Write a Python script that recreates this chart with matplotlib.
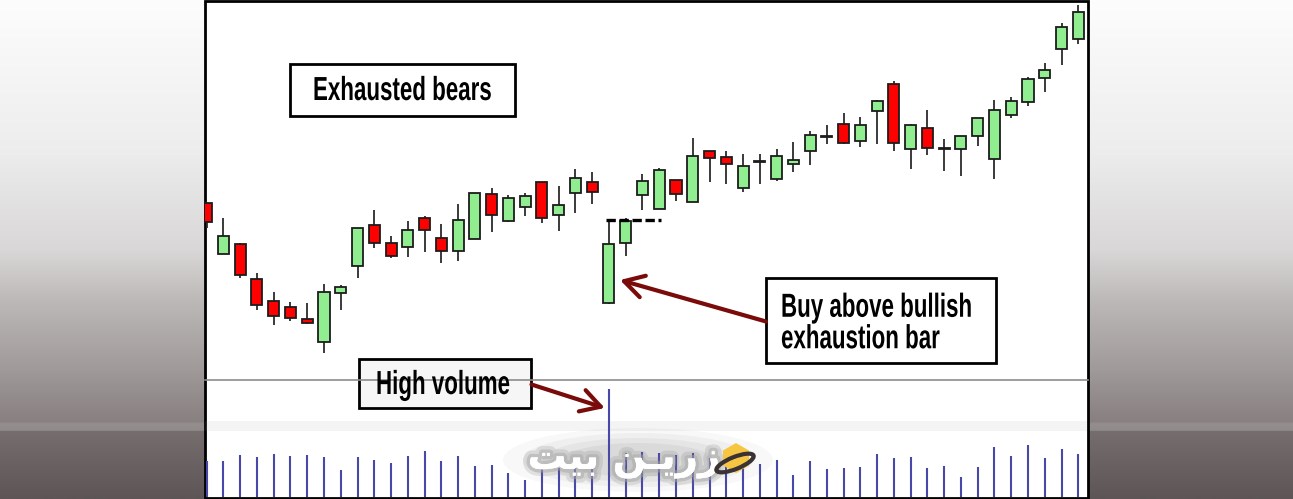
import numpy as np
import matplotlib.pyplot as plt
from matplotlib.patches import Rectangle, RegularPolygon, Ellipse
from matplotlib.transforms import Affine2D
import matplotlib.patheffects as pe

# candle data (arbitrary price units, no axis shown)
opens  = [197, 146, 156, 121, 99, 93, 81, 58, 107, 134, 175, 157, 153, 182, 162, 149,
          161, 206, 179, 193, 218, 185, 207, 218, 97, 157, 205, 191, 220, 198, 249, 243,
          212, 238, 221, 236, 249, 263, 276, 259, 289, 316, 251, 272, 251, 251, 264, 241,
          285, 298, 322, 351, 361]
highs  = [197, 182, 157, 127, 108, 98, 97, 116, 115, 172, 190, 164, 179, 184, 176, 196,
          207, 212, 205, 207, 218, 214, 231, 228, 180, 182, 226, 232, 220, 262, 249, 249,
          246, 246, 251, 258, 269, 275, 287, 283, 300, 319, 276, 290, 261, 264, 282, 300,
          303, 323, 337, 377, 395]
lows   = [172, 146, 122, 90, 75, 79, 76, 47, 90, 122, 152, 142, 143, 148, 137, 139,
          161, 168, 178, 184, 177, 169, 187, 196, 96, 144, 190, 191, 199, 198, 218, 216,
          208, 216, 219, 228, 235, 256, 256, 253, 256, 249, 231, 245, 229, 224, 254, 221,
          282, 294, 308, 335, 356]
closes = [178, 164, 125, 95, 84, 82, 77, 108, 113, 172, 157, 144, 170, 170, 149, 180,
          207, 185, 202, 204, 182, 195, 222, 208, 156, 179, 219, 230, 206, 244, 242, 236,
          234, 238, 244, 240, 265, 263, 257, 275, 299, 257, 275, 252, 252, 264, 282, 290,
          299, 321, 330, 373, 388]
volume = [36, 36, 42, 40, 43, 41, 42, 40, 27, 40, 37, 34, 41, 46, 36, 41,
          31, 32, 24, 17, 29, 29, 30, 35, 108, 44, 45, 44, 42, 44, 39, 31,
          31, 33, 37, 22, 36, 28, 29, 30, 43, 39, 40, 29, 31, 20, 30, 50,
          41, 52, 39, 48, 43]
exhaustion_bar = 24

W, H = 1293, 499
fig = plt.figure(figsize=(W / 100, H / 100), dpi=100)

def fx(px):
    return px / W

def fy(py):
    return 1 - py / H

# squeeze glyphs sideways so the bold sans looks like the condensed font of the original
class Squeeze(pe.AbstractPathEffect):
    def __init__(self, sx):
        super().__init__()
        self.sx = sx

    def draw_path(self, renderer, gc, tpath, affine, rgbFace=None):
        renderer.draw_path(gc, tpath, Affine2D().scale(self.sx, 1) + affine, rgbFace)

# grey gradient background of the frame
bg = fig.add_axes([0, 0, 1, 1])
rows = np.linspace(0, H, 300)
stops_y = [0, 150, 250, 300, 367, 417, 423, 424, 431, 432, 499]
stops_c = ['#fdfdfd', '#ededed', '#d9d7d7', '#bdb9b9', '#a19b9b', '#8a8283',
           '#878080', '#958e8e', '#928b8b', '#766d6e', '#5d5556']
rgb = np.array([[int(c[i:i + 2], 16) / 255 for i in (1, 3, 5)] for c in stops_c])
grad = np.stack([np.interp(rows, stops_y, rgb[:, k]) for k in range(3)], axis=1)
bg.imshow(grad[:, None, :], aspect='auto', extent=[0, W, H, 0])
bg.set_xlim(0, W)
bg.set_ylim(H, 0)
bg.axis('off')

# white chart panel
bg.add_patch(Rectangle((204.5, 0.5), 883.5, 497, facecolor='white',
                       edgecolor='black', lw=2, zorder=2))
bg.add_patch(Rectangle((205, 421), 882, 10, facecolor='#9a9a9a', alpha=0.1,
                       lw=0, zorder=3))
# soft haze behind the watermark
for k, a in enumerate([0.04, 0.05, 0.06, 0.07]):
    bg.add_patch(Ellipse((638, 460), 270 - 40 * k, 64 - 10 * k, facecolor='#555555',
                         alpha=a, lw=0, zorder=3))

# price panel
ax = fig.add_axes([fx(205), fy(380), fx(883), 380 / H])
ax.patch.set_alpha(0)
ax.axis('off')
ax.set_xlim(-0.1, 52.58)
ax.set_ylim(20, 400)

x = np.arange(len(opens))
o = np.array(opens, float)
c = np.array(closes, float)
body_col = ['#90ee90' if cc >= oo else '#ff0000' for oo, cc in zip(o, c)]
body_h = np.where(np.abs(c - o) < 1, 0.8, c - o)
ax.vlines(x, lows, highs, color='#2b2b2b', lw=1.3, zorder=2)
ax.bar(x, body_h, bottom=o, width=0.66, color=body_col, edgecolor='#1c1c1c',
       linewidth=1.3, zorder=3)

# dashed level at the high of the exhaustion bar
ax.hlines(highs[exhaustion_bar], exhaustion_bar - 0.15, exhaustion_bar + 3.1,
          colors='black', linestyles=(0, (2.8, 1.1)), lw=2.4, zorder=4)

# volume panel
axv = fig.add_axes([fx(205), fy(497), fx(883), 117 / H])
axv.patch.set_alpha(0)
axv.axis('off')
axv.set_xlim(-0.1, 52.58)
axv.set_ylim(0, 117)
axv.vlines(x, 0, volume, color='#4848a8', lw=1.5, zorder=2)
axv.axhline(117, color='#8c8c8c', lw=1.2, clip_on=False)

# labels
font = ['Liberation Sans', 'DejaVu Sans']
narrow = [Squeeze(0.67)]

def label_box(x0, y0, x1, y1, fc):
    bg.add_patch(Rectangle((x0, y0), x1 - x0, y1 - y0, facecolor=fc,
                           edgecolor='black', lw=2, zorder=6))

label_box(290, 64, 515, 116, 'white')
fig.text(fx(313), fy(100), 'Exhausted bears', family=font, weight='bold',
         fontsize=24, ha='left', va='baseline', path_effects=narrow)

label_box(766, 278, 996, 363, 'white')
fig.text(fx(781), fy(324), 'Buy above bullish\nexhaustion bar', family=font,
         weight='bold', fontsize=24, ha='left', va='center', linespacing=1.02,
         path_effects=narrow)

label_box(359, 359, 531, 408, '#f6f6f6')
fig.text(fx(376), fy(394), 'High volume', family=font, weight='bold',
         fontsize=24, ha='left', va='baseline', path_effects=narrow)

arrow = dict(arrowstyle='->,head_length=0.7,head_width=0.4', color='#7a0b0b',
             lw=3, mutation_scale=20, shrinkA=0, shrinkB=0)
ax.annotate('', xy=(exhaustion_bar + 0.66, 120), xycoords='data',
            xytext=(766, H - 321.5), textcoords='figure pixels',
            arrowprops=arrow, zorder=8)
axv.annotate('', xy=(exhaustion_bar - 0.25, 89), xycoords='data',
             xytext=(531.5, H - 384.5), textcoords='figure pixels',
             arrowprops=arrow, zorder=8)

# watermark
glow = [pe.withStroke(linewidth=10, foreground='#777777', alpha=0.18),
        pe.withStroke(linewidth=5, foreground='#a8a8a8', alpha=0.5), pe.Normal()]
fig.text(fx(624), fy(460), '\ufe96\ufef4\ufe91 \ufee6\u0640\ufef3\ufead\ufeaf',
         family=['DejaVu Sans'], weight='bold', fontsize=28, color='white',
         ha='center', va='center', path_effects=glow)
logo = fig.add_axes([fx(711), fy(484), fx(48), 48 / H])
logo.set_zorder(5)
logo.patch.set_alpha(0)
logo.set_xlim(-24, 24)
logo.set_ylim(-24, 24)
logo.axis('off')
logo.add_patch(RegularPolygon((1, 2), 6, radius=15, facecolor='#f6c643',
                              edgecolor='none'))
logo.add_patch(Ellipse((0, -3), 40, 12, angle=22, facecolor='none',
                       edgecolor='#3a3233', lw=3))

fig.savefig('out.png', dpi=100)
